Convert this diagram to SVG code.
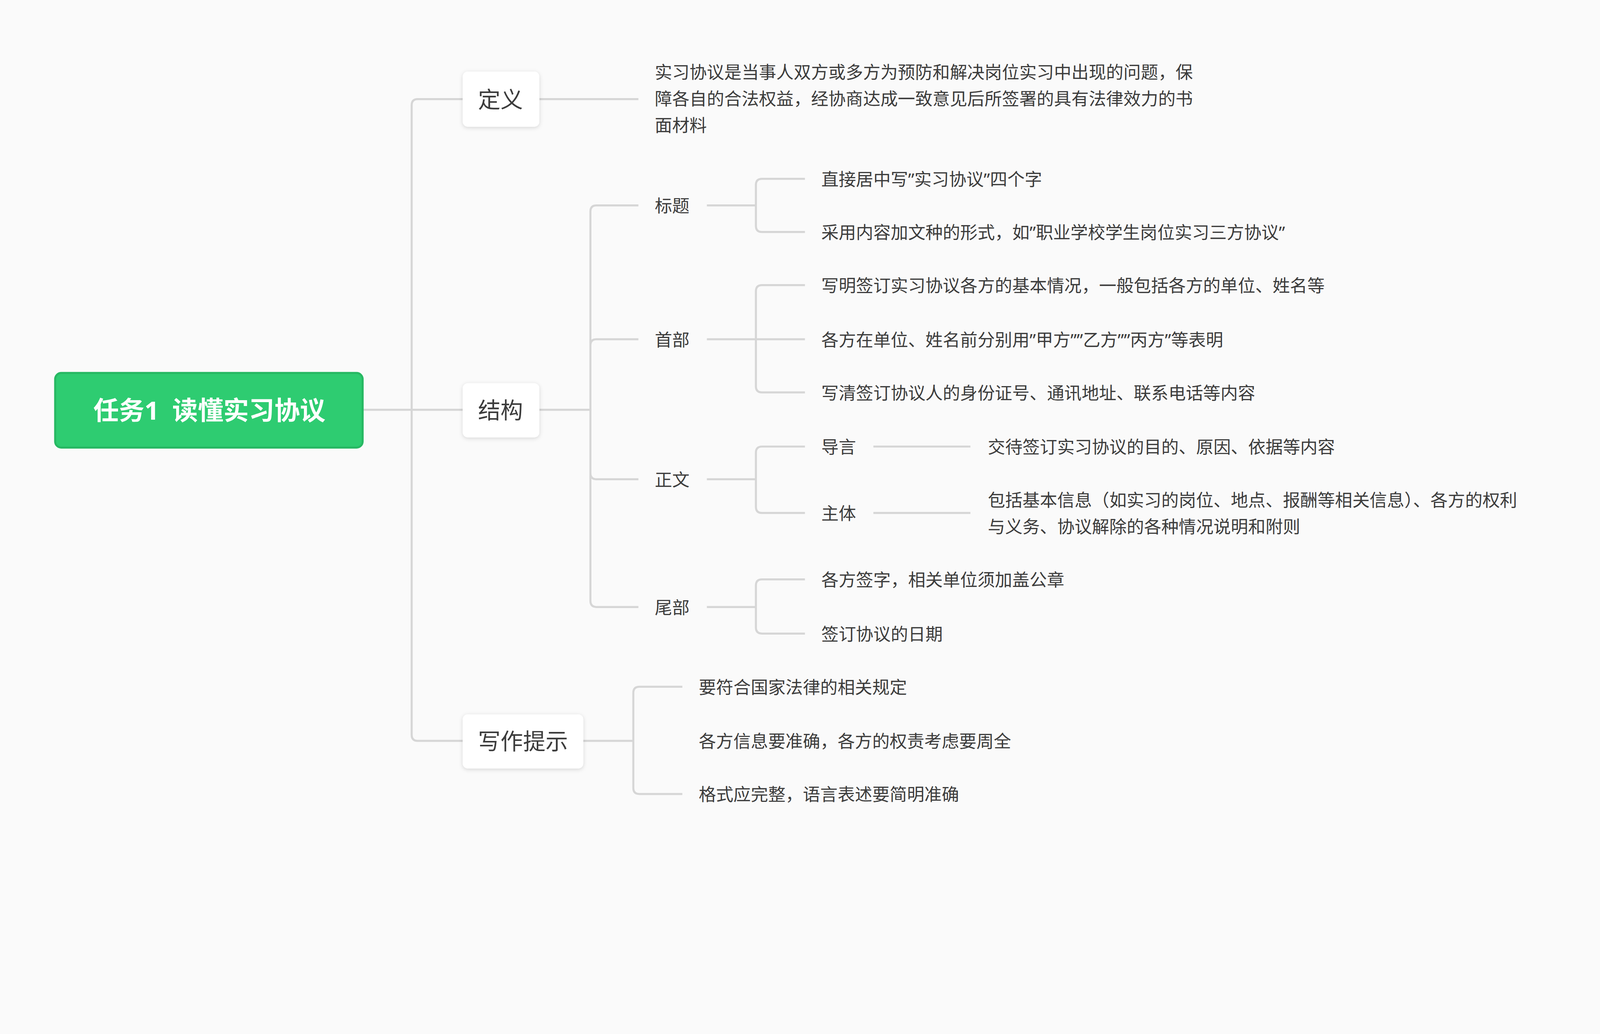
<svg xmlns="http://www.w3.org/2000/svg" width="4880" height="2646" viewBox="0 0 4880 2646">
<defs>
<filter id="sh" x="-20%" y="-20%" width="140%" height="150%"><feDropShadow dx="0" dy="1" stdDeviation="2" flood-color="#000" flood-opacity="0.15"/></filter>
<style>
.c{fill:none;stroke:#d6d6d6;stroke-width:2}
text{font-family:"Noto Sans","Noto Sans CJK SC",sans-serif;fill:#3c3c3c;dominant-baseline:central}
.l{font-size:17px}
.m{font-size:22px;text-anchor:middle}
.b{fill:#fff;filter:url(#sh)}
</style>
</defs>
<rect width="4880" height="2646" fill="#fafafa"/>
<g transform="scale(2.615)">
<g id="connectors">
<path class="c" d="M355 401H453M403 401V103Q403 97 409 97H453M403 401V719Q403 725 409 725H453"/>
<path class="c" d="M528 97H625"/>
<path class="c" d="M528 401H578M578 401V207Q578 201 584 201H625M578 401V338Q578 332 584 332H625M578 401V463Q578 469 584 469H625M578 401V588Q578 594 584 594H625"/>
<path class="c" d="M692 201H740M740 201V181Q740 175 746 175H788M740 201V221Q740 227 746 227H788"/>
<path class="c" d="M692 332H788M740 332V285Q740 279 746 279H788M740 332V378Q740 384 746 384H788"/>
<path class="c" d="M692 469H740M740 469V443Q740 437 746 437H788M740 469V496Q740 502 746 502H788"/>
<path class="c" d="M692 594H740M740 594V573Q740 567 746 567H788M740 594V614Q740 620 746 620H788"/>
<path class="c" d="M855 437H950M855 502H950"/>
<path class="c" d="M571 725H620M620 725V678Q620 672 626 672H668M620 725V771Q620 777 626 777H668"/>
</g>
<g id="root"><rect x="54" y="365" width="301" height="73" rx="6" fill="#2ecc71" stroke="#27b863" stroke-width="2"/><text x="205" y="401" style="font-size:25px;font-weight:bold;fill:#fff;text-anchor:middle;white-space:pre" xml:space="preserve">任务1  读懂实习协议</text></g>
<g id="n-dingyi"><rect class="b" x="453" y="70" width="75" height="54" rx="5"/><text class="m" x="490" y="97">定义</text></g>
<g id="n-jiegou"><rect class="b" x="453" y="375" width="75" height="53" rx="5"/><text class="m" x="490" y="401">结构</text></g>
<g id="n-tishi"><rect class="b" x="453" y="699" width="118" height="53" rx="5"/><text class="m" x="512" y="725">写作提示</text></g>
<g id="t-def"><text class="l" x="641" y="70">实习协议是当事人双方或多方为预防和解决岗位实习中出现的问题，保</text><text class="l" x="641" y="96">障各自的合法权益，经协商达成一致意见后所签署的具有法律效力的书</text><text class="l" x="641" y="122">面材料</text></g>
<g id="n-biaoti"><text class="l" x="641" y="201">标题</text></g>
<g id="n-shoubu"><text class="l" x="641" y="332">首部</text></g>
<g id="n-zhengwen"><text class="l" x="641" y="469">正文</text></g>
<g id="n-weibu"><text class="l" x="641" y="594">尾部</text></g>
<g id="leaves">
<text class="l" x="804" y="175">直接居中写”实习协议”四个字</text>
<text class="l" x="804" y="227">采用内容加文种的形式，如”职业学校学生岗位实习三方协议”</text>
<text class="l" x="804" y="279">写明签订实习协议各方的基本情况，一般包括各方的单位、姓名等</text>
<text class="l" x="804" y="332">各方在单位、姓名前分别用”甲方””乙方””丙方”等表明</text>
<text class="l" x="804" y="384">写清签订协议人的身份证号、通讯地址、联系电话等内容</text>
<text class="l" x="804" y="437">导言</text>
<text class="l" x="804" y="502">主体</text>
<text class="l" x="967" y="437">交待签订实习协议的目的、原因、依据等内容</text>
<text class="l" x="967" y="489">包括基本信息（如实习的岗位、地点、报酬等相关信息）、各方的权利</text>
<text class="l" x="967" y="515">与义务、协议解除的各种情况说明和附则</text>
<text class="l" x="804" y="567">各方签字，相关单位须加盖公章</text>
<text class="l" x="804" y="620">签订协议的日期</text>
<text class="l" x="684" y="672">要符合国家法律的相关规定</text>
<text class="l" x="684" y="725">各方信息要准确，各方的权责考虑要周全</text>
<text class="l" x="684" y="777">格式应完整，语言表述要简明准确</text>
</g>
</g>
</svg>
